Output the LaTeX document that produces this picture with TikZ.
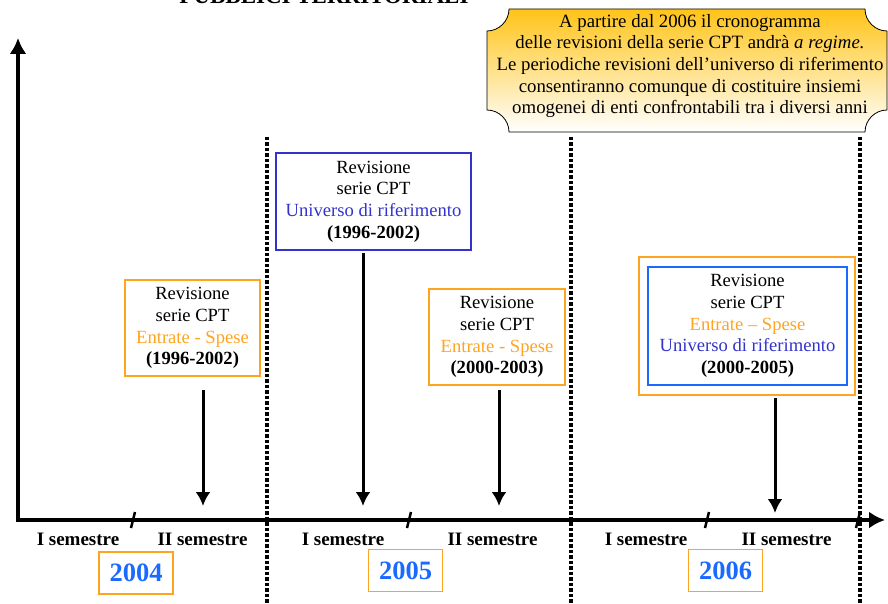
\documentclass[tikz,border=0pt]{standalone}
\usepackage{fontspec}
\setmainfont{Liberation Serif}
\usetikzlibrary{arrows.meta,positioning}
\definecolor{cptorange}{RGB}{255,164,32}
\definecolor{cptindigo}{RGB}{51,51,204}
\definecolor{cptblue}{RGB}{26,106,255}
\definecolor{cptgold}{RGB}{255,196,24}
\tikzset{
>={Latex[width=15pt,length=14pt]},
axis/.style={line width=4pt, {Latex[width=17pt,length=16pt]}-{Latex[width=17pt,length=16pt]}},
down/.style={->, line width=3pt},
tick/.style={line width=2.5pt},
yearline/.style={line width=3.5pt, dash pattern=on 3.5pt off 2pt},
revbox/.style={rectangle, draw=cptorange, line width=1.8pt, align=center,
               inner sep=0pt, font=\fontsize{18.6}{21.7}\selectfont},
univbox/.style={revbox, draw=cptindigo, line width=1.4pt},
yearbox/.style={rectangle, draw=cptorange, line width=1.8pt, text=cptblue,
                minimum width=74pt, minimum height=42pt,
                font=\fontsize{26.5}{28}\selectfont\bfseries},
semester/.style={font=\fontsize{19}{20}\selectfont\bfseries},
}

\begin{document}
\begin{tikzpicture}[x=1pt, y=-1pt]

    \useasboundingbox (0,0) rectangle (888,604);

    \node[anchor=base, font=\fontsize{23}{26}\selectfont\bfseries] (title) at(324, 4) {PUBBLICI TERRITORIALI};

    % nota
    \shadedraw[top color=cptgold, middle color=cptgold!55!white, bottom color=white,
               draw=black, line width=0.8pt]
        (509,9) -- (865,9) .. controls (865,21) and (875,31) .. (887,31)
        -- (887,110) .. controls (875,110) and (865,120) .. (865,132)
        -- (509,132) .. controls (509,120) and (499,110) .. (487,110)
        -- (487,31) .. controls (499,31) and (509,21) .. (509,9) -- cycle;
    \node[align=center, font=\fontsize{18.8}{21.7}\selectfont] (nota) at(690, 66)
        {A partire dal 2006 il cronogramma\\delle revisioni della serie CPT andrà \textit{a regime.}\\Le periodiche revisioni dell’universo di riferimento\\consentiranno comunque di costituire insiemi\\omogenei di enti confrontabili tra i diversi anni};

    \coordinate (origin) at(18, 520);
    \coordinate (ytop) at(18, 38);
    \coordinate (xend) at(885, 520);

    \foreach \x in {267,571,860} \draw[yearline] (\x,137) -- (\x,604);

    \draw[axis] (ytop) -- (origin) -- (xend);

    \foreach \x in {133,409,707,858} \draw[tick] (\x-2,528) -- (\x+2,512);

    \node[revbox, minimum width=135pt, minimum height=96pt] (r1) at(192.5, 328)
        {Revisione\\serie CPT\\\textcolor{cptorange}{Entrate - Spese}\\\textbf{(1996-2002)}};
    \node[univbox, minimum width=195pt, minimum height=97pt] (r2) at(373.5, 201.5)
        {Revisione\\serie CPT\\\textcolor{cptindigo}{Universo di riferimento}\\\textbf{(1996-2002)}};
    \node[revbox, minimum width=136pt, minimum height=96pt] (r3) at(497, 337)
        {Revisione\\serie CPT\\\textcolor{cptorange}{Entrate - Spese}\\\textbf{(2000-2003)}};
    \node[revbox, minimum width=216pt, minimum height=138pt] (r4) at(747, 326) {};
    \node[univbox, draw=cptblue, minimum width=199pt, minimum height=118pt] (r4in) at(747.5, 326)
        {Revisione\\serie CPT\\\textcolor{cptorange}{Entrate -- Spese}\\\textcolor{cptindigo}{Universo di riferimento}\\\textbf{(2000-2005)}};

    \coordinate (s1) at(203, 390);
    \coordinate (e1) at(203, 506);
    \coordinate (s2) at(363, 253);
    \coordinate (e2) at(363, 506);
    \coordinate (s3) at(499, 390);
    \coordinate (e3) at(499, 506);
    \coordinate (s4) at(775, 398);
    \coordinate (e4) at(775, 513);

    \draw[down] (s1) to (e1) ;
    \draw[down] (s2) to (e2) ;
    \draw[down] (s3) to (e3) ;
    \draw[down] (s4) to (e4) ;

    \node[semester] (sem1) at(78, 539) {I semestre};
    \node[semester] (sem2) at(202.5, 539) {II semestre};
    \node[semester] (sem3) at(343, 539) {I semestre};
    \node[semester] (sem4) at(492.5, 539) {II semestre};
    \node[semester] (sem5) at(646, 539) {I semestre};
    \node[semester] (sem6) at(786.5, 539) {II semestre};

    \node[yearbox] (y2004) at(136, 573) {2004};
    \node[yearbox] (y2005) at(405.5, 570.5) {2005};
    \node[yearbox] (y2006) at(725.5, 570.5) {2006};

\end{tikzpicture}
\end{document}
